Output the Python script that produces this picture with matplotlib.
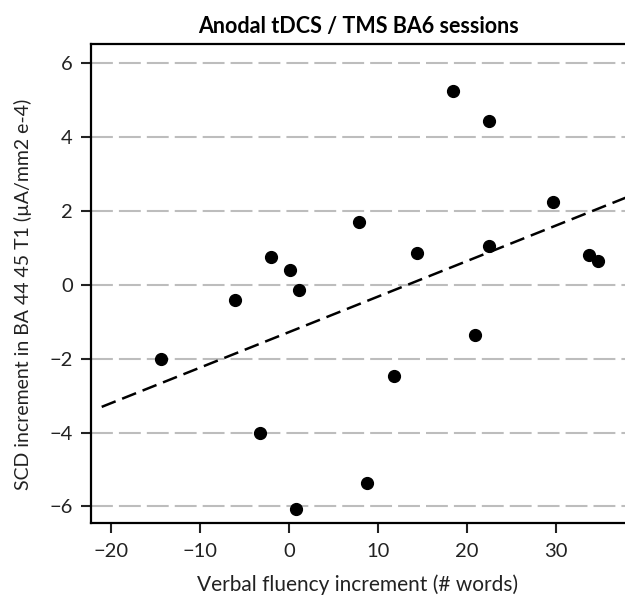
import numpy as np
import matplotlib
matplotlib.use('Agg')
import matplotlib.pyplot as plt

plt.rcParams['font.family'] = ['Lato', 'DejaVu Sans']

# verbal fluency increment (# words) vs SCD increment
fluency = [-14.3, -6.0, -3.2, -2.0, 0.1, 1.1, 0.8, 7.9, 8.8, 11.8,
           14.4, 18.4, 20.9, 22.5, 22.5, 29.6, 33.7, 34.7]
scd = [-2.01, -0.40, -4.00, 0.75, 0.40, -0.15, -6.07, 1.71, -5.36, -2.47,
       0.86, 5.26, -1.35, 4.44, 1.06, 2.23, 0.81, 0.65]
xticks = [-20, -10, 0, 10, 20, 30]
yticks = [-6, -4, -2, 0, 2, 4, 6]

title = 'Anodal tDCS / TMS BA6 sessions'
xlabel = 'Verbal fluency increment (# words)'
ylabel = 'SCD increment in BA 44 45 T1 (\u00b5A/mm2 e-4)'

fig = plt.figure(figsize=(6.25, 5.95), dpi=100)
ax = fig.add_axes([91 / 625, 72 / 595, 1 - 91 / 625, (523 - 44) / 595])

xlim = (-22.2, 37.7)
ylim = (-6.45, 6.52)

for yv in yticks:
    ax.axhline(yv, color='#bdbdbd', lw=1.5, dashes=(10.5, 2.9), zorder=1)

# least squares fit
slope, icpt = np.polyfit(fluency, scd, 1)
xl = np.array([-21.0, xlim[1] + 1])
ax.plot(xl, icpt + slope * xl, color='black', lw=1.8, dashes=(6, 2.8), zorder=2)

ax.plot(fluency, scd, 'o', color='black', ms=8.5, zorder=3)

ax.set_xlim(*xlim)
ax.set_ylim(*ylim)
ax.set_xticks(xticks)
ax.set_yticks(yticks)
ax.set_xticklabels([str(t).replace('-', '\u2212') for t in xticks])
ax.set_yticklabels([str(t).replace('-', '\u2212') for t in yticks])
ax.tick_params(direction='out', length=7, width=1.5, labelsize=14.5,
               colors='#222222')
ax.tick_params(axis='x', pad=7.5)
ax.tick_params(axis='y', pad=6)

for s in ['left', 'bottom', 'top']:
    ax.spines[s].set_linewidth(1.6)
ax.spines['right'].set_visible(False)

ax.set_title(title, fontsize=15.5, fontweight='bold', pad=8)
ax.set_xlabel(xlabel, fontsize=15, labelpad=10, color='#222222')
ax.set_ylabel(ylabel, fontsize=14, color='#222222')
ax.yaxis.set_label_coords(-0.11, 0.478)

fig.savefig('out.png', dpi=100)
